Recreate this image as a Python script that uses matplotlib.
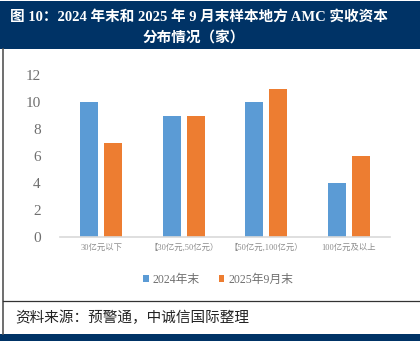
import matplotlib
matplotlib.use("Agg")
import matplotlib.pyplot as plt
import numpy as np
from matplotlib.patches import Rectangle
from matplotlib.lines import Line2D

categories = ["30亿元以下", "【30亿元,50亿元）", "【50亿元,100亿元）", "100亿元及以上"]
end_2024 = [10, 9, 10, 4]
sep_2025 = [7, 9, 11, 6]
series_names = ["2024年末", "2025年9月末"]
yticks = [0, 2, 4, 6, 8, 10, 12]

BLUE = "#5B9BD5"
ORANGE = "#ED7D31"
NAVY = "#003366"
GRAY = "#6F6F6F"

serif_cjk = ["Liberation Serif", "Noto Sans CJK SC"]
plt.rcParams["font.family"] = ["Liberation Serif", "Noto Sans CJK SC", "DejaVu Sans"]

W, H = 420, 341
fig = plt.figure(figsize=(W / 100, H / 100), dpi=100)

def fy(py):
    return 1 - py / H

# title banner
fig.patches.append(Rectangle((0, fy(49)), 1, 48 / H, transform=fig.transFigure,
                             facecolor=NAVY, edgecolor="none", zorder=0))
fig.text(10 / W, fy(17), "图 10：2024 年末和 2025 年 9 月末样本地方 AMC 实收资本",
         color="white", fontsize=10.5, fontweight="bold", va="center", ha="left",
         family=serif_cjk)
fig.text(194 / W, fy(38), "分布情况（家）", color="white", fontsize=10.5,
         fontweight="bold", va="center", ha="center", family=serif_cjk)

# bottom strip
fig.patches.append(Rectangle((0, 0), 1, 7 / H, transform=fig.transFigure,
                             facecolor=NAVY, edgecolor="none", zorder=0))
# frame lines
fig.lines.append(Line2D([3 / W, 3 / W], [fy(334), fy(49)], transform=fig.transFigure,
                        color="#555555", lw=1.2))
fig.lines.append(Line2D([3 / W, 1], [fy(300.5), fy(300.5)], transform=fig.transFigure,
                        color="#333333", lw=0.9))

fig.text(15 / W, fy(318), "资料来源：预警通，中诚信国际整理", fontsize=10.5,
         style="italic", va="center", ha="left", color="#222222", family=serif_cjk)

ax = fig.add_axes([60 / W, (H - 237) / H, 330 / W, 162 / H])
x = np.arange(len(categories))
off = 0.145
bw = 0.22
ax.bar(x - off, end_2024, bw, color=BLUE, label=series_names[0])
ax.bar(x + off, sep_2025, bw, color=ORANGE, label=series_names[1])
ax.set_xlim(-0.5, 3.5)
ax.set_ylim(0, 12)
ax.set_yticks(yticks)
ax.set_yticklabels([str(v) for v in yticks], fontsize=11, color=GRAY)
ax.set_xticks(x)
ax.set_xticklabels(categories, fontsize=6, color="#8C8C8C")
ax.tick_params(length=0)
ax.tick_params(axis="y", pad=14)
ax.tick_params(axis="x", pad=5)
for s in ["top", "right", "left"]:
    ax.spines[s].set_visible(False)
ax.spines["bottom"].set_color("#D9D9D9")
ax.spines["bottom"].set_linewidth(1.2)

leg = fig.legend(loc="center", bbox_to_anchor=(218 / W, fy(280)), ncol=2,
                 frameon=False, fontsize=8.5, handlelength=0.5, handleheight=0.5,
                 columnspacing=1.6, handletextpad=0.3)
for t in leg.get_texts():
    t.set_color(GRAY)

fig.savefig("out.png", dpi=100)
